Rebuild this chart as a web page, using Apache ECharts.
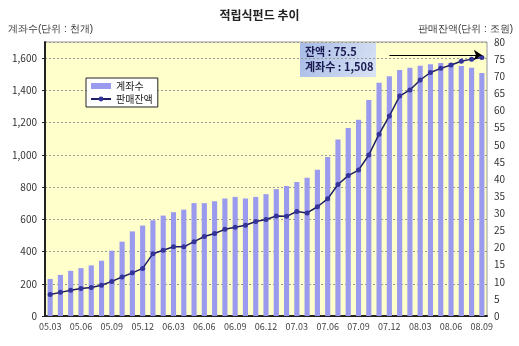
<!DOCTYPE html>
<html><head><meta charset="utf-8">
<script src="https://cdn.jsdelivr.net/npm/echarts@6/dist/echarts.min.js"></script>
<style>html,body{margin:0;padding:0;background:#fff}#c{width:519px;height:346px}</style>
</head><body><div id="c"></div>
<script>
var months = ['05.03','05.04','05.05','05.06','05.07','05.08','05.09','05.10','05.11','05.12',
  '06.01','06.02','06.03','06.04','06.05','06.06','06.07','06.08','06.09','06.10','06.11','06.12',
  '07.01','07.02','07.03','07.04','07.05','07.06','07.07','07.08','07.09','07.10','07.11','07.12',
  '08.01','08.02','08.03','08.04','08.05','08.06','08.07','08.08','08.09'];
var accounts = [230,255,280,297,314,343,405,461,525,561,594,623,644,660,700,700,712,729,739,729,739,756,
  787,806,831,858,908,986,1095,1167,1217,1340,1447,1487,1526,1541,1553,1562,1570,1570,1551,1541,1508];
var balance = [6.3,6.9,7.5,8.0,8.3,9.0,10.1,11.4,12.6,13.9,18.2,19.2,20.2,20.2,21.7,23.2,24.1,25.3,25.9,26.5,27.6,28.2,
  29.2,29.1,30.5,30.1,31.9,34.2,38.4,41.0,42.6,47.0,53.1,58.4,64.2,66.0,68.9,71.1,72.3,73.3,74.4,75.0,75.5];
var seriesNames = ['계좌수','판매잔액'];
var titleText = '적립식펀드 추이';
var leftName = '계좌수(단위 : 천개)';
var rightName = '판매잔액(단위 : 조원)';
var noteLines = ['잔액 : 75.5','계좌수 : 1,508'];

var FONT = '"Noto Sans CJK KR", "DejaVu Sans", sans-serif';
var chart = echarts.init(document.getElementById('c'));
chart.setOption({
  backgroundColor: '#fff',
  animation: false,
  textStyle: {fontFamily: FONT},
  title: {text: titleText, left: 'center', top: 4, textStyle: {fontSize: 12, fontWeight: 'bold', color: '#222', fontFamily: FONT}},
  grid: {left: 45, right: 32, top: 42, bottom: 30, show: true, backgroundColor: '#ffffcc', borderColor: '#999', borderWidth: 1},
  legend: {
    left: 86, top: 78, orient: 'vertical', backgroundColor: '#fff', borderColor: '#222', borderWidth: 1,
    padding: [3, 5, 3, 4], itemGap: 3, itemWidth: 20, itemHeight: 6,
    textStyle: {fontSize: 10, color: '#222', fontFamily: FONT},
    data: [{name: seriesNames[0], icon: 'rect'}, {name: seriesNames[1]}]
  },
  xAxis: {
    type: 'category', data: months, boundaryGap: true,
    axisLine: {lineStyle: {color: '#222', width: 2}},
    axisTick: {interval: 2, length: 3, lineStyle: {color: '#222'}},
    axisLabel: {interval: 2, fontSize: 9, color: '#444', margin: 6, fontFamily: FONT}
  },
  yAxis: [{
    type: 'value', min: 0, max: 1700, interval: 200,
    axisLine: {show: true, lineStyle: {color: '#222', width: 2}},
    axisTick: {show: true, length: 3, lineStyle: {color: '#222'}},
    axisLabel: {showMaxLabel: false, fontSize: 10, color: '#333', margin: 8, fontFamily: FONT,
      formatter: function (v) { return v.toLocaleString('en-US'); }},
    splitLine: {show: true, lineStyle: {color: '#999', type: [2, 2]}}
  }, {
    type: 'value', min: 0, max: 80, interval: 5, position: 'right',
    axisLine: {show: false}, axisTick: {show: false},
    axisLabel: {fontSize: 10, color: '#333', margin: 7, fontFamily: FONT},
    splitLine: {show: false}
  }],
  graphic: [
    {type: 'text', left: 8, top: 24, style: {text: leftName, fontSize: 10, fill: '#333', font: '10px ' + FONT}},
    {type: 'text', right: 6, top: 24, style: {text: rightName, fontSize: 10, fill: '#333', font: '10px ' + FONT}},
    {type: 'group', left: 300, top: 43, children: [
      {type: 'rect', shape: {x: 0, y: 0, width: 76, height: 34},
        style: {fill: new echarts.graphic.LinearGradient(0, 0, 1, 1, [{offset: 0, color: '#a7bbe6'}, {offset: 1, color: '#d9e3f5'}])}},
      {type: 'text', x: 5, y: 3, style: {text: noteLines[0], font: 'bold 11px ' + FONT, fill: '#1a1a50'}},
      {type: 'text', x: 5, y: 18, style: {text: noteLines[1], font: 'bold 11px ' + FONT, fill: '#1a1a50'}}
    ]}
  ],
  series: [{
    name: seriesNames[0], type: 'bar', yAxisIndex: 0, data: accounts, barWidth: '50%',
    itemStyle: {color: '#9a9aee'}
  }, {
    name: seriesNames[1], type: 'line', yAxisIndex: 1, data: balance,
    symbol: 'circle', symbolSize: 5,
    lineStyle: {color: '#1e1e66', width: 1.5},
    itemStyle: {color: '#333399'},
    markLine: {
      silent: true, symbol: ['none', 'arrow'], symbolSize: [8, 8],
      lineStyle: {color: '#000', width: 1, type: 'solid'},
      label: {show: false},
      data: [[{coord: [33, 76.2]}, {coord: [42, 76.2]}]]
    }
  }]
});
</script></body></html>
